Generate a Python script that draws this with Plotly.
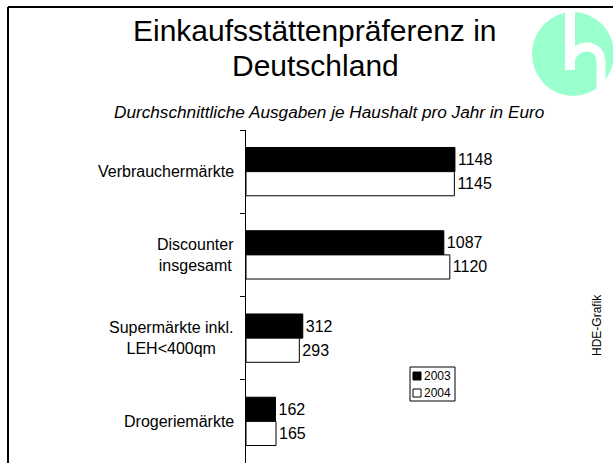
import plotly.graph_objects as go

categories = ["Verbrauchermärkte", "Discounter<br>insgesamt", "Supermärkte inkl.<br>LEH<400qm", "Drogeriemärkte"]
values_2003 = [1148, 1087, 312, 162]
values_2004 = [1145, 1120, 293, 165]
series_names = ["2003", "2004"]
series_colors = ["black", "white"]

W, H = 613, 463
ML, MR, MT, MB = 246, 67, 130, 0
PW, PH = W - ML - MR, H - MT - MB

def px(x):
    return (x - ML) / PW

def py(y):
    return 1 - (y - MT) / PH

FONT = "Liberation Sans, Arial, sans-serif"

fig = go.Figure()
for name, vals, col in zip(series_names, [values_2003, values_2004], series_colors):
    fig.add_trace(go.Bar(
        y=categories, x=vals, name=name, orientation="h",
        marker=dict(color=col, line=dict(color="black", width=1)),
        text=[str(v) for v in vals], textposition="outside",
        textfont=dict(size=16, color="black", family=FONT), cliponaxis=False,
        showlegend=False,
    ))

annotations = []
for c in categories:
    annotations.append(dict(
        x=px(236), xref="paper", y=c, yref="y", text=c, showarrow=False,
        xanchor="right", align="center", font=dict(size=16, color="black", family=FONT),
    ))
annotations += [
    dict(x=px(315), y=py(31), xref="paper", yref="paper",
         text="Einkaufsstättenpräferenz in", showarrow=False,
         xanchor="center", yanchor="middle",
         font=dict(size=30, color="black", family=FONT)),
    dict(x=px(315), y=py(65), xref="paper", yref="paper",
         text="Deutschland", showarrow=False,
         xanchor="center", yanchor="middle",
         font=dict(size=30, color="black", family=FONT)),
    dict(x=px(329), y=py(112), xref="paper", yref="paper",
         text="<i>Durchschnittliche Ausgaben je Haushalt pro Jahr in Euro</i>", showarrow=False,
         xanchor="center", yanchor="middle",
         font=dict(size=17.2, color="black", family=FONT)),
    dict(x=px(597), y=py(325), xref="paper", yref="paper",
         text="HDE-Grafik", showarrow=False, textangle=-90,
         xanchor="center", yanchor="middle",
         font=dict(size=12, color="black", family=FONT)),
]

shapes = [
    dict(type="line", xref="paper", yref="paper", x0=px(8), y0=py(7), x1=px(613), y1=py(7),
         line=dict(color="black", width=2)),
    dict(type="line", xref="paper", yref="paper", x0=px(8), y0=py(7), x1=px(8), y1=py(463),
         line=dict(color="black", width=2)),
    dict(type="circle", xref="paper", yref="paper", x0=px(532), y0=py(12), x1=px(614), y1=py(96),
         fillcolor="#99FFCC", line=dict(width=0)),
    dict(type="path", xref="paper", yref="paper",
         path=f"M {px(570)} {py(10)} L {px(570)} {py(70)}",
         line=dict(color="white", width=10)),
    dict(type="path", xref="paper", yref="paper",
         path=f"M {px(570)} {py(62)} C {px(572)} {py(44)}, {px(600)} {py(40)}, {px(601)} {py(62)} L {px(601)} {py(100)}",
         line=dict(color="white", width=9)),
    # legend box
    dict(type="rect", xref="paper", yref="paper", x0=px(410), y0=py(367), x1=px(455), y1=py(401),
         fillcolor="white", line=dict(color="black", width=1)),
]

# manual legend entries
for i, (name, col) in enumerate(zip(series_names, series_colors)):
    yc = 376 + 17 * i
    shapes.append(dict(type="rect", xref="paper", yref="paper",
                       x0=px(413), y0=py(yc - 4), x1=px(421), y1=py(yc + 4),
                       fillcolor=col, line=dict(color="black", width=1)))
    annotations.append(dict(x=px(422), y=py(yc), xref="paper", yref="paper", text=name,
                            showarrow=False, xanchor="left", yanchor="middle",
                            font=dict(size=12, color="black", family=FONT)))

fig.update_layout(
    width=W, height=H,
    margin=dict(l=ML, r=MR, t=MT, b=MB),
    paper_bgcolor="white", plot_bgcolor="white",
    barmode="group", bargap=0.42, bargroupgap=0,
    font=dict(family=FONT, color="black"),
    xaxis=dict(range=[0, PW / 0.182], visible=False, fixedrange=True),
    yaxis=dict(autorange="reversed", showline=True, linecolor="black", linewidth=1,
               ticks="outside", ticklen=5, tickcolor="black", tickson="boundaries",
               showticklabels=False, showgrid=False, zeroline=False, automargin=False,
               fixedrange=True),
    annotations=annotations, shapes=shapes,
    showlegend=False,
)

fig.write_html("out.html", config={"displayModeBar": False},
               post_script="document.body.style.margin='0';document.body.style.overflow='hidden';")
